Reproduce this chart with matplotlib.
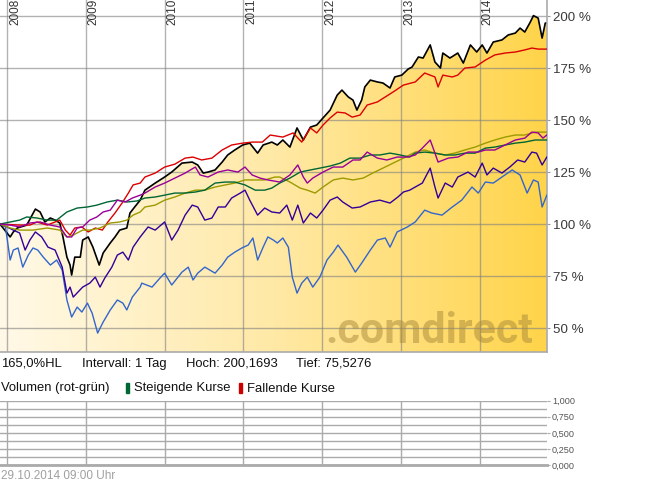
import numpy as np
import matplotlib
matplotlib.use('Agg')
import matplotlib.pyplot as plt
from matplotlib.colors import LinearSegmentedColormap
from matplotlib.patches import Polygon, Rectangle

plt.rcParams['font.family'] = ['Liberation Sans', 'DejaVu Sans']

# Zeit in Dezimaljahren, Werte in % (Start = 100 %)
black_t = [2007.91, 2008.04, 2008.08, 2008.13, 2008.25, 2008.36, 2008.42, 2008.48, 2008.55, 2008.61,
           2008.67, 2008.71, 2008.76, 2008.80, 2008.82, 2008.86, 2008.93, 2008.96, 2009.03, 2009.09,
           2009.17, 2009.22, 2009.31, 2009.37, 2009.43, 2009.52, 2009.56, 2009.62, 2009.69, 2009.75,
           2009.88, 2010.00, 2010.09, 2010.22, 2010.35, 2010.42, 2010.49, 2010.55, 2010.64, 2010.73,
           2010.80, 2010.89, 2010.99, 2011.08, 2011.18, 2011.25, 2011.36, 2011.43, 2011.50, 2011.59,
           2011.68, 2011.76, 2011.85, 2011.93, 2012.01, 2012.10, 2012.19, 2012.25, 2012.33, 2012.39,
           2012.44, 2012.50, 2012.54, 2012.61, 2012.70, 2012.77, 2012.86, 2012.92, 2013.01, 2013.09,
           2013.14, 2013.22, 2013.28, 2013.37, 2013.43, 2013.50, 2013.53, 2013.62, 2013.72, 2013.79,
           2013.88, 2013.96, 2014.03, 2014.09, 2014.17, 2014.28, 2014.36, 2014.45, 2014.51, 2014.57,
           2014.64, 2014.68, 2014.74, 2014.79, 2014.83, 2014.85]
black_v = [100.0, 93.8, 96.2, 98.1, 99.5, 107.2, 105.8, 101.0, 102.9, 101.9,
           100.5, 93.8, 84.1, 80.3, 75.5, 84.1, 84.1, 92.3, 93.8, 88.9,
           80.3, 86.1, 90.9, 93.8, 97.1, 98.1, 105.3, 108.2, 111.5, 116.3,
           119.7, 122.6, 125.0, 129.3, 129.8, 128.4, 124.5, 125.0, 126.0, 129.8,
           133.2, 135.6, 138.0, 138.9, 134.1, 138.0, 139.4, 138.0, 140.4, 137.0,
           146.2, 140.4, 146.6, 147.6, 151.0, 154.8, 162.0, 164.4, 161.1, 159.6,
           154.8, 159.6, 165.9, 169.2, 168.3, 167.8, 165.4, 170.7, 171.6, 174.5,
           175.5, 180.3, 179.8, 186.1, 177.9, 175.0, 182.2, 179.8, 182.2, 177.4,
           186.1, 182.7, 186.1, 182.2, 187.5, 188.5, 190.9, 191.8, 194.2, 192.3,
           197.1, 200.2, 199.0, 189.4, 196.6, 196.6]

red_t = [2007.91, 2008.16, 2008.29, 2008.38, 2008.51, 2008.61, 2008.67, 2008.74, 2008.80, 2008.86,
         2008.95, 2009.03, 2009.12, 2009.21, 2009.28, 2009.37, 2009.46, 2009.54, 2009.60, 2009.69,
         2009.75, 2009.88, 2010.00, 2010.13, 2010.26, 2010.36, 2010.47, 2010.60, 2010.73, 2010.85,
         2010.99, 2011.11, 2011.24, 2011.34, 2011.50, 2011.63, 2011.74, 2011.85, 2011.93, 2012.01,
         2012.10, 2012.19, 2012.29, 2012.38, 2012.48, 2012.57, 2012.70, 2012.80, 2012.90, 2013.03,
         2013.18, 2013.30, 2013.43, 2013.47, 2013.53, 2013.65, 2013.72, 2013.81, 2013.94, 2014.07,
         2014.19, 2014.32, 2014.45, 2014.57, 2014.66, 2014.74, 2014.85]
red_v = [100.0, 99.5, 99.5, 101.0, 99.5, 101.0, 101.9, 97.1, 94.7, 98.1,
         98.6, 96.2, 98.1, 97.1, 101.0, 105.3, 110.1, 114.9, 118.8, 119.7,
         122.6, 124.5, 127.4, 128.8, 131.7, 132.2, 130.8, 131.7, 135.6, 138.0,
         138.9, 139.4, 139.4, 142.8, 141.8, 143.8, 139.4, 146.2, 143.8, 147.6,
         151.0, 153.8, 153.4, 151.4, 152.4, 157.2, 158.7, 161.1, 163.5, 166.8,
         168.3, 172.6, 170.7, 165.9, 171.6, 170.7, 171.6, 175.0, 175.5, 178.8,
         181.3, 182.2, 182.7, 183.7, 184.6, 184.1, 184.1]

green_t = [2007.91, 2008.16, 2008.25, 2008.38, 2008.51, 2008.63, 2008.76, 2008.89, 2009.02, 2009.14,
           2009.27, 2009.40, 2009.52, 2009.65, 2009.75, 2009.88, 2010.00, 2010.13, 2010.26, 2010.39,
           2010.51, 2010.64, 2010.77, 2010.89, 2011.02, 2011.15, 2011.27, 2011.36, 2011.46, 2011.59,
           2011.72, 2011.85, 2011.97, 2012.10, 2012.23, 2012.35, 2012.48, 2012.61, 2012.73, 2012.86,
           2012.99, 2013.11, 2013.18, 2013.30, 2013.43, 2013.56, 2013.68, 2013.81, 2013.94, 2014.07,
           2014.19, 2014.32, 2014.45, 2014.57, 2014.70, 2014.85]
green_v = [100.0, 101.9, 103.4, 102.9, 101.9, 101.9, 105.8, 107.7, 108.2, 109.1,
           110.6, 111.5, 110.6, 111.1, 112.5, 113.0, 113.9, 114.9, 114.9, 115.4,
           116.3, 119.7, 120.2, 120.2, 118.8, 116.3, 116.3, 117.3, 119.7, 122.1,
           125.0, 126.0, 126.9, 127.9, 129.3, 131.7, 131.7, 133.2, 133.2, 134.1,
           133.2, 132.2, 134.1, 134.6, 134.1, 133.2, 133.2, 134.1, 134.1, 136.5,
           137.0, 138.0, 138.9, 139.4, 140.4, 140.4]

olive_t = [2007.91, 2008.04, 2008.16, 2008.33, 2008.51, 2008.67, 2008.76, 2008.84, 2008.96, 2009.05,
           2009.18, 2009.31, 2009.43, 2009.52, 2009.60, 2009.69, 2009.75, 2009.88, 2010.00, 2010.13,
           2010.26, 2010.39, 2010.51, 2010.64, 2010.77, 2010.89, 2011.02, 2011.15, 2011.27, 2011.40,
           2011.46, 2011.59, 2011.72, 2011.81, 2011.91, 2012.01, 2012.14, 2012.26, 2012.39, 2012.52,
           2012.64, 2012.77, 2012.90, 2013.03, 2013.18, 2013.30, 2013.43, 2013.56, 2013.68, 2013.81,
           2013.94, 2014.07, 2014.19, 2014.32, 2014.45, 2014.57, 2014.70, 2014.85]
olive_v = [100.0, 98.1, 97.1, 97.1, 98.1, 97.1, 93.8, 94.7, 97.1, 97.1,
           98.1, 100.5, 101.0, 101.9, 104.3, 105.8, 108.2, 109.1, 111.5, 113.0,
           114.9, 116.3, 116.3, 117.8, 118.8, 119.7, 121.2, 121.2, 121.2, 122.6,
           122.6, 120.2, 117.3, 116.3, 114.9, 117.8, 121.2, 122.1, 121.2, 122.1,
           124.5, 126.9, 129.3, 131.7, 134.6, 135.6, 134.1, 133.2, 134.1, 135.6,
           137.0, 138.9, 140.4, 141.8, 142.8, 142.8, 144.2, 144.2]

magenta_t = [2007.91, 2008.04, 2008.16, 2008.29, 2008.42, 2008.55, 2008.67, 2008.76, 2008.82, 2008.89,
             2008.96, 2009.05, 2009.14, 2009.22, 2009.31, 2009.40, 2009.50, 2009.59, 2009.69, 2009.75,
             2009.88, 2010.00, 2010.13, 2010.26, 2010.39, 2010.45, 2010.55, 2010.68, 2010.80, 2010.93,
             2011.02, 2011.11, 2011.21, 2011.31, 2011.46, 2011.59, 2011.69, 2011.76, 2011.81, 2011.88,
             2012.01, 2012.14, 2012.26, 2012.39, 2012.48, 2012.57, 2012.70, 2012.82, 2012.95, 2013.08,
             2013.18, 2013.27, 2013.37, 2013.43, 2013.47, 2013.60, 2013.72, 2013.85, 2013.98, 2014.07,
             2014.19, 2014.32, 2014.45, 2014.57, 2014.66, 2014.74, 2014.80, 2014.85]
magenta_v = [100.0, 99.5, 98.6, 100.5, 101.0, 99.5, 98.6, 93.8, 93.8, 98.1,
             98.6, 101.9, 103.4, 105.8, 106.7, 111.5, 110.6, 112.5, 113.9, 114.9,
             117.8, 119.7, 122.1, 124.5, 127.4, 123.6, 122.6, 125.0, 126.0, 125.0,
             127.4, 123.6, 122.1, 121.2, 120.2, 123.6, 128.4, 122.6, 119.7, 122.1,
             125.0, 127.4, 127.4, 130.8, 130.8, 134.6, 131.7, 130.8, 132.2, 132.2,
             133.2, 136.5, 140.4, 134.1, 129.8, 131.7, 132.2, 134.6, 134.6, 135.6,
             135.6, 138.0, 140.4, 141.3, 144.2, 143.8, 141.3, 142.8]

indigo_t = [2007.91, 2008.00, 2008.08, 2008.16, 2008.23, 2008.29, 2008.36, 2008.44, 2008.52, 2008.61,
            2008.70, 2008.76, 2008.80, 2008.84, 2008.90, 2008.96, 2009.05, 2009.12, 2009.18, 2009.24,
            2009.33, 2009.40, 2009.47, 2009.54, 2009.60, 2009.69, 2009.79, 2009.88, 2010.00, 2010.09,
            2010.17, 2010.26, 2010.35, 2010.42, 2010.51, 2010.60, 2010.68, 2010.77, 2010.85, 2010.96,
            2011.02, 2011.08, 2011.18, 2011.27, 2011.36, 2011.46, 2011.55, 2011.62, 2011.69, 2011.76,
            2011.85, 2011.93, 2012.01, 2012.10, 2012.19, 2012.26, 2012.38, 2012.48, 2012.61, 2012.73,
            2012.86, 2012.96, 2013.03, 2013.11, 2013.18, 2013.27, 2013.37, 2013.43, 2013.47, 2013.56,
            2013.65, 2013.72, 2013.85, 2013.94, 2014.03, 2014.09, 2014.17, 2014.28, 2014.38, 2014.48,
            2014.57, 2014.66, 2014.72, 2014.79, 2014.85]
indigo_v = [100.0, 98.6, 97.1, 95.7, 87.5, 92.3, 96.2, 93.8, 88.9, 87.5,
            79.3, 66.8, 69.7, 64.9, 67.3, 69.7, 71.6, 74.5, 69.7, 74.0,
            79.3, 85.1, 86.5, 82.7, 88.9, 93.8, 98.6, 97.1, 101.0, 92.3,
            97.1, 104.3, 109.1, 108.2, 101.9, 102.9, 108.2, 108.2, 112.5, 114.9,
            116.3, 111.5, 104.3, 107.7, 105.8, 105.3, 109.1, 101.9, 109.1, 100.5,
            105.3, 102.9, 106.7, 111.5, 113.0, 110.6, 107.7, 108.2, 110.6, 111.5,
            110.1, 113.0, 115.4, 116.3, 117.8, 119.7, 126.9, 117.8, 112.5, 119.7,
            117.8, 122.6, 125.0, 122.6, 129.3, 123.6, 126.9, 124.5, 127.4, 130.8,
            129.8, 134.6, 134.1, 128.4, 132.2]

blue_t = [2007.91, 2007.98, 2008.04, 2008.08, 2008.14, 2008.20, 2008.27, 2008.33, 2008.39, 2008.46,
          2008.55, 2008.63, 2008.70, 2008.76, 2008.82, 2008.89, 2008.95, 2009.02, 2009.08, 2009.15,
          2009.22, 2009.31, 2009.40, 2009.47, 2009.52, 2009.59, 2009.69, 2009.71, 2009.84, 2009.94,
          2010.00, 2010.09, 2010.22, 2010.30, 2010.36, 2010.42, 2010.51, 2010.64, 2010.73, 2010.80,
          2010.89, 2010.98, 2011.06, 2011.12, 2011.18, 2011.25, 2011.31, 2011.38, 2011.43, 2011.50,
          2011.57, 2011.62, 2011.68, 2011.74, 2011.81, 2011.88, 2011.97, 2012.06, 2012.14, 2012.20,
          2012.31, 2012.42, 2012.50, 2012.61, 2012.70, 2012.80, 2012.86, 2012.95, 2013.08, 2013.18,
          2013.30, 2013.39, 2013.52, 2013.65, 2013.77, 2013.90, 2013.98, 2014.07, 2014.17, 2014.28,
          2014.41, 2014.51, 2014.60, 2014.68, 2014.74, 2014.79, 2014.85]
blue_v = [100.0, 98.6, 82.7, 87.5, 88.5, 79.3, 85.1, 88.5, 87.5, 84.1,
          80.3, 82.7, 77.9, 63.5, 55.3, 60.1, 57.7, 62.0, 57.2, 47.6,
          52.9, 58.7, 63.5, 62.0, 58.7, 64.9, 69.7, 71.6, 69.7, 74.0,
          76.4, 70.7, 76.9, 79.3, 73.1, 76.4, 79.3, 76.4, 80.3, 84.1,
          86.5, 88.5, 89.9, 93.3, 82.7, 88.9, 93.8, 92.3, 90.9, 93.3,
          88.9, 74.5, 66.8, 71.6, 74.5, 69.7, 74.5, 82.7, 86.5, 89.9,
          84.1, 76.9, 81.2, 87.5, 92.3, 93.3, 88.9, 96.2, 98.6, 101.0,
          106.7, 105.3, 104.3, 108.2, 111.5, 117.8, 114.9, 120.2, 119.7, 122.6,
          126.0, 123.6, 114.9, 121.2, 120.2, 108.2, 113.9]

years = [2008, 2009, 2010, 2011, 2012, 2013, 2014]
pct_ticks = [50, 75, 100, 125, 150, 175, 200]
vol_ticks = [0.0, 0.25, 0.5, 0.75, 1.0]

x0, x1 = 2007.911, 2014.852
ylo, yhi = 38.5, 207.7

W, H = 645, 483
fig = plt.figure(figsize=(W / 100, H / 100), dpi=100)
fig.patch.set_facecolor('white')

ax = fig.add_axes([0, 131 / H, 547 / W, 352 / H])
ax.set_facecolor('white')

# Verlaufsfüllung unter der schwarzen Kurve
cmap = LinearSegmentedColormap.from_list('cd', ['#fff9e8', '#ffe9a6', '#ffd44a'])
verts = np.column_stack([np.r_[black_t[0], black_t, black_t[-1]],
                         np.r_[ylo, black_v, ylo]])
clip = Polygon(verts, closed=True, transform=ax.transData, facecolor='none', edgecolor='none')
ax.add_patch(clip)
grad = np.linspace(0, 1, 256).reshape(1, -1)
im = ax.imshow(grad, cmap=cmap, extent=[x0, x1, ylo, yhi], aspect='auto', zorder=0.2,
               interpolation='bilinear')
im.set_clip_path(clip)

ax.text(325 / 547, 9 / 352, '.comdirect', transform=ax.transAxes, fontsize=31,
        family='Roboto', weight='bold', color='#a8893a', alpha=0.5,
        ha='left', va='baseline', zorder=0.6)

ax.plot(black_t, black_v, color='#000000', lw=1.2, zorder=2)
ax.plot(red_t, red_v, color='#dd0000', lw=1.0, zorder=3)
ax.plot(blue_t, blue_v, color='#3366cc', lw=1.0, zorder=3)
ax.plot(indigo_t, indigo_v, color='#330099', lw=1.0, zorder=3)
ax.plot(olive_t, olive_v, color='#9c9a00', lw=1.0, zorder=3)
ax.plot(green_t, green_v, color='#006633', lw=1.0, zorder=3)
ax.plot(magenta_t, magenta_v, color='#990099', lw=1.0, zorder=3)

ax.set_xlim(x0, x1)
ax.set_ylim(ylo, yhi)
ax.set_xticks(years)
ax.set_yticks(pct_ticks)
ax.set_yticklabels([f'{p} %' for p in pct_ticks])
ax.set_axisbelow(True)
ax.grid(True, color='#808080', alpha=0.6, lw=1)
ax.tick_params(axis='x', length=0, labelbottom=False)
ax.yaxis.tick_right()
ax.tick_params(axis='y', length=2.5, width=0.8, color='#999999', pad=1.5,
               labelsize=9.6, labelcolor='#3a3a3a')
for s in ['left', 'top']:
    ax.spines[s].set_visible(False)
for s in ['right', 'bottom']:
    ax.spines[s].set_color('#aaaaaa')
    ax.spines[s].set_linewidth(1.2)

for y in years:
    ax.annotate(str(y), xy=(y, 1), xycoords=('data', 'axes fraction'), xytext=(2, 1),
                textcoords='offset pixels', rotation=90, ha='left', va='top',
                fontsize=8.5, color='#333333')

# Volumen-Panel
ax2 = fig.add_axes([0, 18 / H, 547 / W, 64.3 / H])
ax2.set_xlim(x0, x1)
ax2.set_ylim(0, 1)
ax2.set_xticks(years)
ax2.set_yticks(vol_ticks)
ax2.set_yticks([0.125, 0.375, 0.625, 0.875], minor=True)
ax2.set_yticklabels([f'{v:.3f}'.replace('.', ',') for v in vol_ticks])
ax2.grid(True, which='both', color='#aaaaaa', lw=1)
ax2.tick_params(axis='x', length=0, labelbottom=False)
ax2.yaxis.tick_right()
ax2.tick_params(axis='y', which='major', length=2, color='#aaaaaa', pad=1.5,
                labelsize=6.6, labelcolor='#555555')
ax2.tick_params(axis='y', which='minor', length=0)
for s in ['left', 'top', 'right']:
    ax2.spines[s].set_visible(False)
ax2.spines['bottom'].set_color('#aaaaaa')
ax2.spines['bottom'].set_linewidth(2)


def ftext(x, y, s, **kw):
    fig.text(x / W, 1 - y / H, s, **kw)


row1 = dict(fontsize=9.4, color='#111111', va='center', ha='left')
ftext(1.5, 363.5, '165,0%HL', **row1)
ftext(82.5, 363.5, 'Intervall: 1 Tag', **row1)
ftext(186, 363.5, 'Hoch: 200,1693', **row1)
ftext(296.5, 363.5, 'Tief: 75,5276', **row1)

ftext(1, 388.5, 'Volumen (rot-grün)', **row1)
fig.patches.append(Rectangle((126 / W, 1 - 393 / H), 3.3 / W, 10 / H,
                             transform=fig.transFigure, color='#006633'))
ftext(134, 388.5, 'Steigende Kurse', **row1)
fig.patches.append(Rectangle((239 / W, 1 - 393 / H), 3.3 / W, 10 / H,
                             transform=fig.transFigure, color='#cc0000'))
ftext(247, 388.5, 'Fallende Kurse', **row1)

ftext(1, 476, '29.10.2014 09:00 Uhr', fontsize=8.5, color='#a0a0a0', va='center', ha='left')

fig.savefig('out.png', dpi=100)
